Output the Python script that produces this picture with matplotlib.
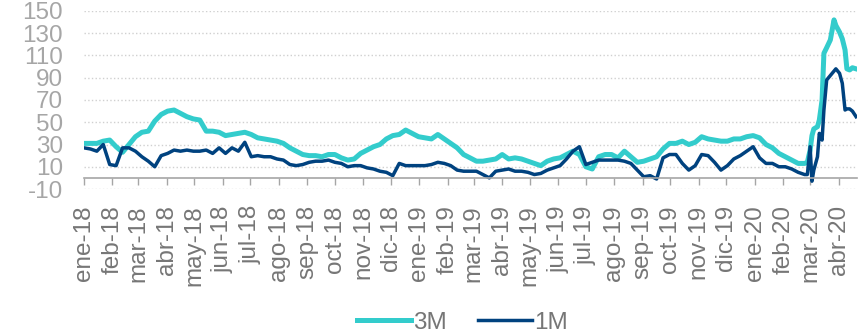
import matplotlib
matplotlib.use('Agg')
import matplotlib.pyplot as plt
import matplotlib.dates as mdates
from matplotlib.ticker import FuncFormatter
import pandas as pd

plt.rcParams['font.family'] = ['Liberation Sans', 'DejaVu Sans']
plt.rcParams['axes.unicode_minus'] = False

# weekly readings from ene-18 to late feb-20
weekly_dates = pd.date_range('2018-01-01', periods=113, freq='7D')

m3_weekly = [
    31, 31, 31, 33, 34, 28, 23, 30, 37, 41,
    42, 51, 57, 60, 61, 58, 55, 53, 52, 42,
    42, 41, 38, 39, 40, 41, 39, 36, 35, 34,
    33, 31, 27, 24, 21, 20, 20, 19, 21, 21,
    18, 16, 17, 22, 25, 28, 30, 35, 38, 39,
    43, 40, 37, 36, 35, 39, 35, 31, 27, 21,
    18, 15, 15, 16, 17, 21, 17, 18, 17, 15,
    13, 11, 15, 17, 18, 21, 24, 21, 10, 8,
    19, 21, 21, 18, 24, 19, 14, 15, 17, 19,
    26, 31, 31, 33, 30, 32, 37, 35, 34, 33,
    33, 35, 35, 37, 38, 36, 30, 27, 22, 19,
    16, 13, 13,
]
m1_weekly = [
    27, 26, 24, 30, 12, 11, 27, 27, 24, 19,
    15, 10, 20, 22, 25, 24, 25, 24, 24, 25,
    22, 27, 22, 27, 24, 32, 19, 20, 19, 19,
    17, 16, 12, 11, 12, 14, 15, 15, 16, 14,
    13, 10, 11, 11, 9, 8, 6, 5, 2, 13,
    11, 11, 11, 11, 12, 14, 13, 11, 7, 6,
    6, 6, 3, 0, 6, 7, 8, 6, 6, 5,
    3, 4, 7, 9, 11, 17, 24, 28, 12, 14,
    16, 16, 16, 16, 15, 13, 7, 1, 2, -1,
    18, 21, 21, 13, 7, 11, 21, 20, 14, 7,
    11, 17, 20, 24, 28, 18, 13, 13, 10, 10,
    8, 5, 3,
]

# denser readings through the mar-20 spike
spike_dates = pd.to_datetime([
    '2020-02-27', '2020-03-01', '2020-03-03', '2020-03-05', '2020-03-09',
    '2020-03-11', '2020-03-14', '2020-03-16', '2020-03-19', '2020-03-23',
    '2020-03-27', '2020-03-29', '2020-04-02', '2020-04-05', '2020-04-08',
    '2020-04-10', '2020-04-13', '2020-04-16', '2020-04-20',
])
m3_spike = [14, 25, 38, 44, 46, 52, 70, 112, 117, 124,
            142, 137, 131, 125, 115, 98, 97, 99, 98]
m1_spike = [3, 28, -3, 7, 19, 40, 34, 61, 88, 92,
            96, 98, 94, 85, 61, 62, 62, 60, 55]

meses = ['ene', 'feb', 'mar', 'abr', 'may', 'jun',
         'jul', 'ago', 'sep', 'oct', 'nov', 'dic']

dates = weekly_dates.append(spike_dates)
m3 = m3_weekly + m3_spike
m1 = m1_weekly + m1_spike


def mes_label(x, pos):
    d = mdates.num2date(x)
    return f"{meses[d.month - 1]}-{d.strftime('%y')}"


fig = plt.figure(figsize=(8.62, 3.34), dpi=100)
ax = fig.add_axes([0.0974, 0.4341, 0.8968, 0.533])

ax.plot(dates, m3, color='#33CCCC', lw=3.6, label='3M', solid_joinstyle='round')
ax.plot(dates, m1, color='#00427F', lw=2.5, label='1M', solid_joinstyle='round')

ax.set_xlim(pd.Timestamp('2018-01-01'), pd.Timestamp('2020-04-21'))
ax.set_ylim(-10, 150)
ax.set_yticks(range(-10, 151, 20))
ax.grid(axis='y', ls=':', color='#D0D0D0', lw=1)
ax.set_axisbelow(True)

for s in ['top', 'right', 'left']:
    ax.spines[s].set_visible(False)
ax.spines['bottom'].set_position(('data', 0))
ax.spines['bottom'].set_color('#A6A6A6')
ax.spines['bottom'].set_linewidth(1.2)

ax.xaxis.set_major_locator(mdates.MonthLocator())
ax.xaxis.set_major_formatter(FuncFormatter(mes_label))
ax.tick_params(axis='x', direction='out', length=4.7, width=1, color='#A6A6A6',
               pad=15, labelsize=17.5, labelcolor='#767676', labelrotation=90)
ax.tick_params(axis='y', length=0, pad=15, labelsize=17.5, labelcolor='#A6A6A6')

fig.legend(loc='center', bbox_to_anchor=(0.5366, 0.034), ncol=2, frameon=False,
           fontsize=17.5, labelcolor='#767676', handlelength=2.2,
           handletextpad=0.1, columnspacing=1.3)

fig.savefig('out.png', dpi=100)
